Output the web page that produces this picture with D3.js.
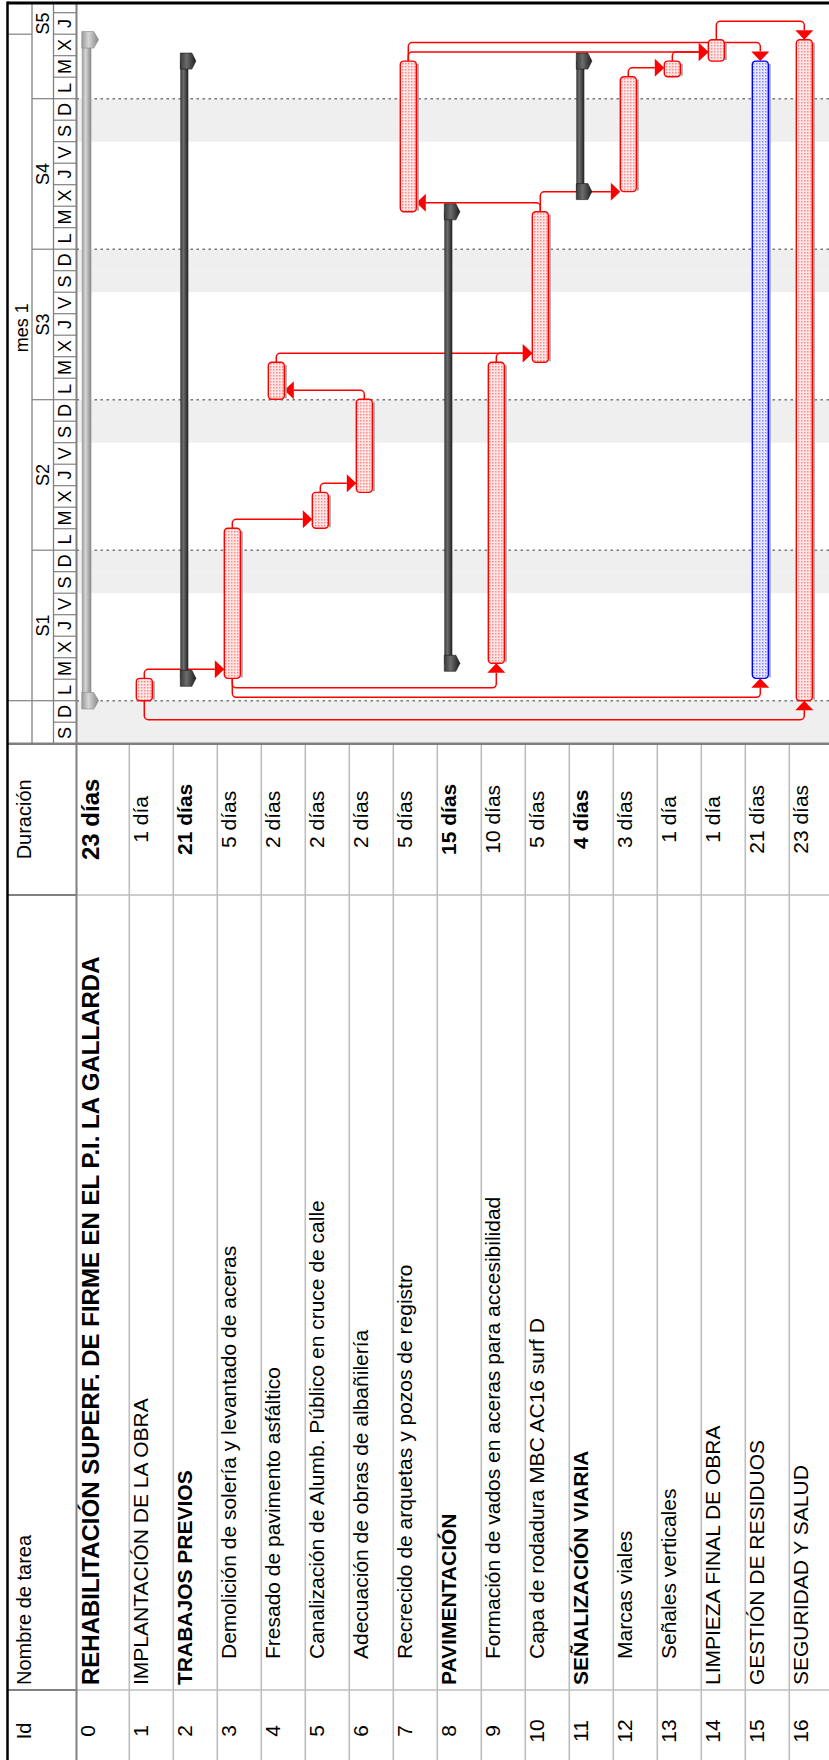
<!DOCTYPE html>
<html lang="es">
<head>
<meta charset="utf-8">
<title>Diagrama de Gantt - Rehabilitación P.I. La Gallarda</title>
<script src="https://cdn.jsdelivr.net/npm/d3@7/dist/d3.min.js"></script>
<style>
  html, body { margin: 0; padding: 0; background: #fff; }
  svg { display: block; }
  text { font-family: "Liberation Sans", Arial, Helvetica, sans-serif; fill: #000; }
</style>
</head>
<body>
<svg id="gantt" width="829" height="1760"></svg>
<script>
// ---------------- Task table ----------------
const taskIds = [0, 1, 2, 3, 4, 5, 6, 7, 8, 9, 10, 11, 12, 13, 14, 15, 16];
const taskNames = [
  "REHABILITACIÓN SUPERF. DE FIRME EN EL P.I. LA GALLARDA",
  "IMPLANTACIÓN DE LA OBRA",
  "TRABAJOS PREVIOS",
  "Demolición de solería y levantado de aceras",
  "Fresado de pavimento asfáltico",
  "Canalización de Alumb. Público en cruce de calle",
  "Adecuación de obras de albañilería",
  "Recrecido de arquetas y pozos de registro",
  "PAVIMENTACIÓN",
  "Formación de vados en aceras para accesibilidad",
  "Capa de rodadura MBC AC16 surf D",
  "SEÑALIZACIÓN VIARIA",
  "Marcas viales",
  "Señales verticales",
  "LIMPIEZA FINAL DE OBRA",
  "GESTIÓN DE RESIDUOS",
  "SEGURIDAD Y SALUD"
];
const taskDurations = ["23 días", "1 día", "21 días", "5 días", "2 días", "2 días", "2 días", "5 días",
  "15 días", "10 días", "5 días", "4 días", "3 días", "1 día", "1 día", "21 días", "23 días"];
const taskLevels = [0, 1, 1, 2, 2, 2, 2, 2, 1, 2, 2, 1, 2, 2, 1, 1, 1];
const taskKinds = ["project", "task", "summary", "task", "task", "task", "task", "task",
  "summary", "task", "task", "summary", "task", "task", "task", "task", "task"];
const taskCritical = [true, true, true, true, true, true, true, true,
  true, true, true, true, true, true, true, false, true];

// Start / finish, in days counted from Monday 00:00 of week S1
const taskStart = [0, 0, 1.04, 1.04, 14.02, 8.02, 9.69, 22.74, 1.74, 1.74, 15.74, 23.68, 23.68, 29.02, 29.75, 1.04, 0];
const taskFinish = [30.74, 1.04, 29.75, 8.02, 15.74, 9.69, 14.02, 29.75, 22.74, 15.74, 22.74, 29.75, 29.02, 29.75, 30.74, 29.75, 30.74];

// Dependencies: predecessor, successor, type (FS fin-comienzo, SS comienzo-comienzo, FF fin-fin)
const linkFrom = [1, 3, 5, 6, 4, 9, 10, 10, 12, 13, 7, 7, 14, 3, 3, 1];
const linkTo   = [3, 5, 6, 4, 10, 10, 7, 12, 13, 14, 14, 15, 16, 9, 15, 16];
const linkType = ["FS", "FS", "FS", "FS", "FS", "FS", "FS", "FS", "FS", "FS", "FS", "FF", "FF", "SS", "SS", "SS"];

// ---------------- Timescale ----------------
const dayLetters = ["L", "M", "X", "J", "V", "S", "D"];   // Monday first
const weekLabels = ["S1", "S2", "S3", "S4", "S5"];
const weekStartDays = [0, 7, 14, 21, 28];
const monthLabels = ["mes 1"];
const monthStartDays = [0];
const monthEndDays = [31];
const monthLabelDays = [17.35];
const firstDay = -2, lastDay = 32;

// ---------------- Layout ----------------
const W = 829, H = 1760;
const frameLeft = 7.5, frameTop = 3;
const monthCol = [frameLeft, 32], weekCol = [32, 53.5], dayCol = [53.5, 76.5];
const gridLeft = 76.5;
const rowUnit = 44;

// Time grows upward on the sheet
const y = d3.scaleLinear().domain([0, 28]).range([700.7, 98.7]);
const ganttBottom = y(firstDay);
const durBand = [ganttBottom, 895], nameBand = [895, 1690], idBand = [1690, H];

const rowSpan = taskIds.map(id => id === 0 ? 1.2 : 1);
const rowStart = [];
{ let acc = gridLeft; rowSpan.forEach(s => { rowStart.push(acc); acc += s * rowUnit; }); }

const svg = d3.select("#gantt");
const defs = svg.append("defs");

defs.append("clipPath").attr("id", "ganttClip")
  .append("rect").attr("x", gridLeft).attr("y", frameTop)
  .attr("width", W - gridLeft).attr("height", ganttBottom - frameTop);

function dotPattern(id, bg, dot) {
  const p = defs.append("pattern").attr("id", id).attr("patternUnits", "userSpaceOnUse")
    .attr("width", 3).attr("height", 3);
  p.append("rect").attr("width", 3).attr("height", 3).attr("fill", bg);
  p.append("rect").attr("width", 1.5).attr("height", 1.5).attr("fill", dot);
}
dotPattern("dotsRed", "#ffe6e6", "#ff8a8a");
dotPattern("dotsBlue", "#e8e8ff", "#8a8aff");

function hGradient(id, stops) {
  const g = defs.append("linearGradient").attr("id", id).attr("x1", 0).attr("x2", 1).attr("y1", 0).attr("y2", 0);
  stops.forEach(([o, c]) => g.append("stop").attr("offset", o).attr("stop-color", c));
}
hGradient("sumGrad", [[0, "#3a3a3a"], [0.4, "#6c6c6c"], [1, "#1e1e1e"]]);
hGradient("projGrad", [[0, "#9a9a9a"], [0.4, "#d6d6d6"], [1, "#868686"]]);

const dow = d => ((d % 7) + 7) % 7;
const days = d3.range(firstDay, lastDay + 1);

// ---------------- Gantt background ----------------
const gantt = svg.append("g").attr("clip-path", "url(#ganttClip)");

gantt.selectAll("rect.weekend").data(days.filter(d => dow(d) >= 5)).join("rect")
  .attr("class", "weekend")
  .attr("x", gridLeft).attr("width", W - gridLeft)
  .attr("y", d => y(d + 1)).attr("height", d => y(d) - y(d + 1))
  .attr("fill", "#efefef");

gantt.selectAll("line.weekline").data(weekStartDays).join("line")
  .attr("class", "weekline")
  .attr("x1", gridLeft).attr("x2", W)
  .attr("y1", d => y(d)).attr("y2", d => y(d))
  .attr("stroke", "#7a7a7a").attr("stroke-width", 1.5).attr("stroke-dasharray", "2.5,3.5");

// ---------------- Bar geometry ----------------
const isSummary = i => taskKinds[i] === "summary";
const barX = i => taskKinds[i] === "project" ? rowStart[i] + 5.3 : rowStart[i] + 7;
const barW = i => taskKinds[i] === "project" ? 9.5 : (isSummary(i) ? 8 : 16);
const barCx = i => barX(i) + barW(i) / 2;

// ---------------- Links ----------------
const arrowLen = 9.5, arrowHalf = 9, cornerR = 4;

function roundedPath(pts) {
  const p = d3.path();
  p.moveTo(pts[0][0], pts[0][1]);
  for (let k = 1; k < pts.length - 1; k++) p.arcTo(pts[k][0], pts[k][1], pts[k + 1][0], pts[k + 1][1], cornerR);
  p.lineTo(pts[pts.length - 1][0], pts[pts.length - 1][1]);
  return p.toString();
}
function arrowHead(tx, ty, dir) {
  const L = arrowLen, h = arrowHalf;
  if (dir === "right") return `M${tx},${ty}L${tx - L},${ty - h}L${tx - L},${ty + h}Z`;
  if (dir === "left")  return `M${tx},${ty}L${tx + L},${ty - h}L${tx + L},${ty + h}Z`;
  if (dir === "up")    return `M${tx},${ty}L${tx - h},${ty + L}L${tx + h},${ty + L}Z`;
  return `M${tx},${ty}L${tx - h},${ty - L}L${tx + h},${ty - L}Z`;
}

const links = linkFrom.map((p, k) => {
  const s = linkTo[k], type = linkType[k];
  const cxP = barCx(p), cxS = barCx(s);
  if (type === "FS") {
    const yEnd = y(taskFinish[p]);
    const ay = Math.max(y(taskStart[s]) - 9, yEnd - 20);
    const toRight = cxS > cxP;
    const tipX = toRight ? barX(s) : barX(s) + barW(s);
    const baseX = toRight ? tipX - arrowLen : tipX + arrowLen;
    return { line: roundedPath([[cxP, yEnd], [cxP, ay], [baseX, ay]]), head: arrowHead(tipX, ay, toRight ? "right" : "left") };
  }
  if (type === "FF") {
    const yP = y(taskFinish[p]), yS = y(taskFinish[s]);
    const ly = Math.min(yP, yS - arrowLen) - 9;
    return { line: roundedPath([[cxP, yP], [cxP, ly], [cxS, ly], [cxS, yS - arrowLen]]), head: arrowHead(cxS, yS, "down") };
  }
  const yP = y(taskStart[p]), yS = y(taskStart[s]);
  const ly = Math.max(yP, yS + arrowLen) + 9.5;
  return { line: roundedPath([[cxP, yP], [cxP, ly], [cxS, ly], [cxS, yS + arrowLen]]), head: arrowHead(cxS, yS, "up") };
});

const linkG = gantt.append("g");
linkG.selectAll("path.link").data(links).join("path")
  .attr("class", "link").attr("d", d => d.line)
  .attr("fill", "none").attr("stroke", "#ff0000").attr("stroke-width", 1.5);
linkG.selectAll("path.head").data(links).join("path")
  .attr("class", "head").attr("d", d => d.head).attr("fill", "#ff0000");

// ---------------- Bars ----------------
const barG = gantt.append("g");
const plainTasks = taskIds.filter(i => taskKinds[i] === "task");

barG.selectAll("rect.shadow").data(plainTasks).join("rect")
  .attr("class", "shadow")
  .attr("x", i => barX(i) + barW(i)).attr("width", 2.5)
  .attr("y", i => y(taskFinish[i]) + 3).attr("height", i => y(taskStart[i]) - y(taskFinish[i]) - 4)
  .attr("fill", "#a6a6a6");

barG.selectAll("rect.task").data(plainTasks).join("rect")
  .attr("class", "task")
  .attr("x", i => barX(i)).attr("width", i => barW(i))
  .attr("y", i => y(taskFinish[i])).attr("height", i => y(taskStart[i]) - y(taskFinish[i]))
  .attr("rx", 3.5).attr("ry", 3.5)
  .attr("fill", i => taskCritical[i] ? "url(#dotsRed)" : "url(#dotsBlue)")
  .attr("stroke", i => taskCritical[i] ? "#ff0000" : "#0000ff").attr("stroke-width", 1.4);

// Summary and project bars with pointed end caps
const groupTasks = taskIds.filter(i => taskKinds[i] !== "task");
function capPath(i, yy) {
  const x0 = barX(i);
  const proj = taskKinds[i] === "project";
  const w = proj ? 12 : 11.6, tip = proj ? 16.8 : 15.6, h = proj ? 8.3 : 8;
  return `M${x0},${yy - h}L${x0 + w},${yy - h}L${x0 + tip},${yy}L${x0 + w},${yy + h}L${x0},${yy + h}Z`;
}
groupTasks.forEach(i => {
  const fill = taskKinds[i] === "project" ? "url(#projGrad)" : "url(#sumGrad)";
  const edge = taskKinds[i] === "project" ? "#8a8a8a" : "#1a1a1a";
  const g = barG.append("g");
  g.append("rect")
    .attr("x", barX(i)).attr("width", barW(i))
    .attr("y", y(taskFinish[i])).attr("height", y(taskStart[i]) - y(taskFinish[i]))
    .attr("fill", fill);
  [taskStart[i], taskFinish[i]].forEach(t => {
    g.append("path").attr("d", capPath(i, y(t))).attr("fill", fill)
      .attr("stroke", edge).attr("stroke-width", 0.6);
  });
});

// ---------------- Timescale header ----------------
const hdr = svg.append("g");
const gray = "#808080";

function vText(sel, x, yy, str, size, anchor, weight) {
  return sel.append("text")
    .attr("transform", `translate(${x},${yy}) rotate(-90)`)
    .attr("text-anchor", anchor || "start")
    .attr("font-size", size)
    .attr("font-weight", weight || "normal")
    .text(str);
}

const visible = v => v >= frameTop && v <= ganttBottom;

// day boundaries and letters
days.concat([lastDay + 1]).map(d => y(d)).filter(visible).forEach(v => {
  hdr.append("line").attr("x1", dayCol[0]).attr("x2", dayCol[1]).attr("y1", v).attr("y2", v)
    .attr("stroke", gray).attr("stroke-width", 1.2);
});
days.filter(d => y(d + 0.5) > frameTop + 8).forEach(d => {
  vText(hdr, (dayCol[0] + dayCol[1]) / 2 + 6.3, y(d + 0.5), dayLetters[dow(d)], 18, "middle");
});

// weeks
weekStartDays.concat([35]).map(d => y(d)).filter(visible).forEach(v => {
  hdr.append("line").attr("x1", weekCol[0]).attr("x2", weekCol[1]).attr("y1", v).attr("y2", v)
    .attr("stroke", gray).attr("stroke-width", 1.2);
});
weekLabels.forEach((lab, k) => {
  vText(hdr, (weekCol[0] + weekCol[1]) / 2 + 6.3, y(weekStartDays[k] + 3.5), lab, 18, "middle");
});

// months
monthStartDays.concat(monthEndDays).map(d => y(d)).filter(visible).forEach(v => {
  hdr.append("line").attr("x1", monthCol[0]).attr("x2", monthCol[1]).attr("y1", v).attr("y2", v)
    .attr("stroke", gray).attr("stroke-width", 1.2);
});
monthLabels.forEach((lab, k) => {
  vText(hdr, (monthCol[0] + monthCol[1]) / 2 + 8.5, y(monthLabelDays[k]), lab, 18, "middle");
});

// header column separators
[monthCol[1], weekCol[1]].forEach(x => {
  hdr.append("line").attr("x1", x).attr("x2", x).attr("y1", frameTop).attr("y2", ganttBottom)
    .attr("stroke", gray).attr("stroke-width", 1.3);
});

// ---------------- Table ----------------
const table = svg.append("g");

// row separators
table.selectAll("line.row").data(taskIds.slice(1)).join("line")
  .attr("class", "row")
  .attr("x1", i => rowStart[i]).attr("x2", i => rowStart[i])
  .attr("y1", ganttBottom).attr("y2", H)
  .attr("stroke", "#bdbdbd").attr("stroke-width", 1.6);

// column separators
[durBand[1], nameBand[1]].forEach(v => {
  table.append("line").attr("x1", gridLeft).attr("x2", W).attr("y1", v).attr("y2", v)
    .attr("stroke", "#bdbdbd").attr("stroke-width", 1.6);
  table.append("line").attr("x1", frameLeft).attr("x2", gridLeft).attr("y1", v).attr("y2", v)
    .attr("stroke", gray).attr("stroke-width", 2);
});
table.append("line").attr("x1", frameLeft).attr("x2", W).attr("y1", ganttBottom).attr("y2", ganttBottom)
  .attr("stroke", gray).attr("stroke-width", 2.5);
table.append("line").attr("x1", gridLeft).attr("x2", gridLeft).attr("y1", frameTop).attr("y2", H)
  .attr("stroke", gray).attr("stroke-width", 2);

// column headers
const hdrBase = 31;
vText(table, hdrBase, (idBand[0] + 1772) / 2, "Id", 20, "middle");
vText(table, hdrBase, nameBand[1] - 5, "Nombre de tarea", 20, "start");
vText(table, hdrBase, (durBand[0] + durBand[1]) / 2, "Duración", 20, "middle");

// cells
taskIds.forEach(i => {
  const top = i === 0;
  const base = rowStart[i] + (top ? 22 : 18.5);
  const bold = taskKinds[i] !== "task" ? "bold" : "normal";
  const size = top ? 24 : 21;
  vText(table, rowStart[i] + 18.5, (idBand[0] + 1772) / 2, String(taskIds[i]), 21, "middle");
  vText(table, base, nameBand[1] - 5 - (taskLevels[i] >= 2 ? 26 : 0), taskNames[i], size, "start", bold);
  vText(table, base, (durBand[0] + durBand[1]) / 2, taskDurations[i], size, "middle", bold);
});

// ---------------- Frame ----------------
svg.append("line").attr("x1", frameLeft).attr("x2", W).attr("y1", frameTop).attr("y2", frameTop)
  .attr("stroke", "#000").attr("stroke-width", 3);
svg.append("line").attr("x1", frameLeft).attr("x2", frameLeft).attr("y1", frameTop - 1.5).attr("y2", H)
  .attr("stroke", "#000").attr("stroke-width", 2.5);
</script>
</body>
</html>
